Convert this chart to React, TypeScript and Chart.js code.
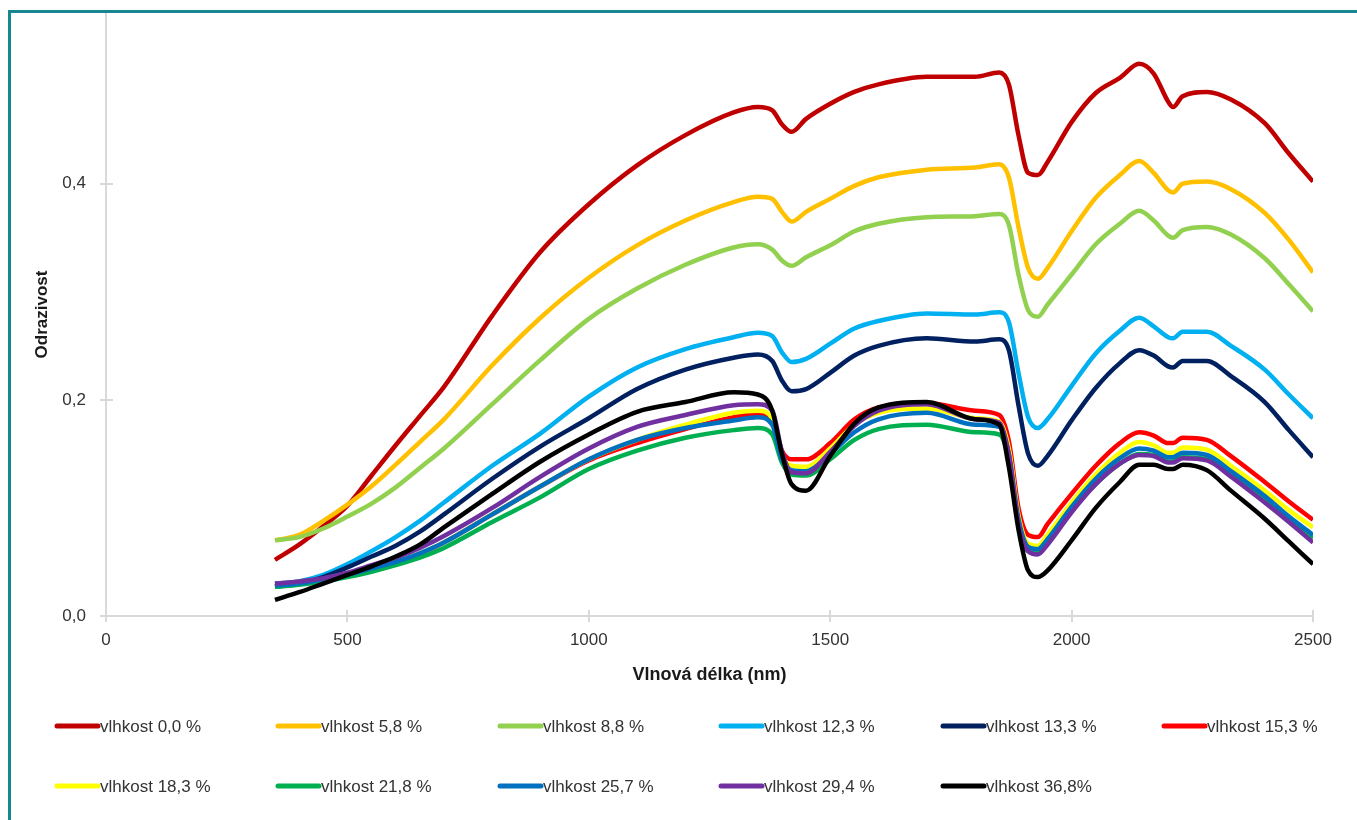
import React, { useEffect, useRef } from "react";
import { Chart, registerables } from "chart.js";

Chart.register(...registerables);

// ---- data ----
const wavelengths = [350, 400, 450, 500, 550, 600, 650, 700, 800, 900, 1000, 1100, 1200, 1300, 1350, 1380, 1400, 1420, 1450, 1500, 1550, 1600, 1700, 1800, 1850, 1870, 1890, 1910, 1930, 1950, 2000, 2050, 2100, 2140, 2170, 2200, 2210, 2230, 2280, 2330, 2400, 2450, 2500];

const seriesLabels = [
  "vlhkost 0,0 %", "vlhkost 5,8 %", "vlhkost 8,8 %", "vlhkost 12,3 %", "vlhkost 13,3 %", "vlhkost 15,3 %",
  "vlhkost 18,3 %", "vlhkost 21,8 %", "vlhkost 25,7 %", "vlhkost 29,4 %", "vlhkost 36,8%",
];

const seriesColors = ["#C00000", "#FFC000", "#92D050", "#00B0F0", "#002060", "#FF0000", "#FFFF00", "#00B050", "#0070C0", "#7030A0", "#000000"];

const moisture00 = [0.052, 0.066, 0.083, 0.102, 0.13, 0.158, 0.185, 0.212, 0.278, 0.337, 0.381, 0.417, 0.445, 0.466, 0.471, 0.468, 0.455, 0.448, 0.46, 0.474, 0.485, 0.492, 0.499, 0.499, 0.503, 0.492, 0.445, 0.41, 0.408, 0.42, 0.457, 0.484, 0.498, 0.511, 0.502, 0.476, 0.471, 0.481, 0.485, 0.478, 0.456, 0.428, 0.402];
const moisture58 = [0.07, 0.075, 0.088, 0.103, 0.12, 0.14, 0.161, 0.182, 0.232, 0.276, 0.313, 0.343, 0.366, 0.383, 0.388, 0.386, 0.374, 0.365, 0.374, 0.386, 0.398, 0.406, 0.413, 0.415, 0.418, 0.406, 0.36, 0.322, 0.312, 0.322, 0.356, 0.387, 0.408, 0.421, 0.41, 0.394, 0.392, 0.4, 0.402, 0.395, 0.373, 0.348, 0.318];
const moisture88 = [0.07, 0.073, 0.081, 0.092, 0.104, 0.119, 0.137, 0.155, 0.196, 0.237, 0.275, 0.303, 0.325, 0.341, 0.344, 0.339, 0.329, 0.324, 0.332, 0.343, 0.356, 0.363, 0.369, 0.37, 0.372, 0.362, 0.316, 0.283, 0.277, 0.288, 0.316, 0.344, 0.363, 0.375, 0.366, 0.352, 0.35, 0.357, 0.36, 0.353, 0.331, 0.307, 0.282];
const moisture123 = [0.03, 0.032, 0.038, 0.048, 0.06, 0.073, 0.088, 0.105, 0.139, 0.169, 0.203, 0.23, 0.247, 0.258, 0.262, 0.259, 0.244, 0.235, 0.238, 0.252, 0.266, 0.273, 0.28, 0.279, 0.281, 0.272, 0.225, 0.184, 0.174, 0.182, 0.213, 0.243, 0.264, 0.276, 0.268, 0.258, 0.257, 0.263, 0.263, 0.25, 0.228, 0.205, 0.183];
const moisture133 = [0.027, 0.03, 0.036, 0.045, 0.055, 0.065, 0.078, 0.094, 0.127, 0.157, 0.183, 0.21, 0.228, 0.239, 0.242, 0.236, 0.218, 0.208, 0.21, 0.225, 0.241, 0.25, 0.257, 0.254, 0.256, 0.246, 0.195, 0.15, 0.139, 0.148, 0.181, 0.211, 0.234, 0.246, 0.241, 0.231, 0.23, 0.236, 0.236, 0.222, 0.198, 0.172, 0.147];
const moisture153 = [0.028, 0.03, 0.033, 0.037, 0.042, 0.049, 0.057, 0.068, 0.094, 0.12, 0.144, 0.16, 0.173, 0.184, 0.187, 0.181, 0.153, 0.145, 0.145, 0.16, 0.182, 0.193, 0.197, 0.19, 0.186, 0.162, 0.1, 0.075, 0.073, 0.085, 0.113, 0.139, 0.16, 0.17, 0.167, 0.16, 0.16, 0.165, 0.163, 0.148, 0.124, 0.106, 0.089];
const moisture183 = [0.028, 0.03, 0.034, 0.038, 0.044, 0.05, 0.058, 0.068, 0.094, 0.12, 0.145, 0.163, 0.177, 0.188, 0.19, 0.183, 0.149, 0.139, 0.138, 0.155, 0.177, 0.188, 0.192, 0.183, 0.18, 0.155, 0.093, 0.067, 0.065, 0.075, 0.105, 0.131, 0.151, 0.161, 0.158, 0.151, 0.151, 0.156, 0.154, 0.139, 0.116, 0.098, 0.082];
const moisture218 = [0.027, 0.029, 0.032, 0.036, 0.041, 0.047, 0.054, 0.063, 0.087, 0.11, 0.136, 0.153, 0.165, 0.172, 0.174, 0.168, 0.142, 0.131, 0.13, 0.145, 0.163, 0.173, 0.177, 0.17, 0.168, 0.145, 0.085, 0.06, 0.058, 0.067, 0.097, 0.122, 0.141, 0.15, 0.149, 0.143, 0.143, 0.147, 0.145, 0.13, 0.107, 0.088, 0.072];
const moisture257 = [0.028, 0.03, 0.034, 0.038, 0.044, 0.05, 0.058, 0.068, 0.094, 0.12, 0.145, 0.163, 0.174, 0.181, 0.184, 0.177, 0.145, 0.135, 0.134, 0.15, 0.17, 0.182, 0.188, 0.177, 0.175, 0.15, 0.09, 0.064, 0.062, 0.071, 0.101, 0.127, 0.146, 0.155, 0.153, 0.147, 0.147, 0.151, 0.149, 0.134, 0.111, 0.092, 0.075];
const moisture294 = [0.03, 0.032, 0.035, 0.04, 0.047, 0.054, 0.063, 0.074, 0.1, 0.129, 0.155, 0.175, 0.186, 0.195, 0.196, 0.19, 0.152, 0.133, 0.132, 0.152, 0.176, 0.19, 0.196, 0.182, 0.179, 0.15, 0.085, 0.06, 0.057, 0.066, 0.096, 0.122, 0.141, 0.149, 0.148, 0.142, 0.142, 0.146, 0.144, 0.129, 0.105, 0.087, 0.068];
const moisture368 = [0.015, 0.022, 0.03, 0.038, 0.046, 0.055, 0.066, 0.082, 0.113, 0.143, 0.168, 0.189, 0.198, 0.207, 0.205, 0.19, 0.15, 0.122, 0.116, 0.148, 0.178, 0.193, 0.198, 0.182, 0.177, 0.138, 0.08, 0.042, 0.036, 0.042, 0.07, 0.1, 0.124, 0.14, 0.14, 0.136, 0.136, 0.14, 0.135, 0.116, 0.09, 0.069, 0.048];

const xTickValues = [0, 500, 1000, 1500, 2000, 2500];
const yTickValues = [0, 0.2, 0.4];

const xTitle = "Vlnová délka (nm)";
const yTitle = "Odrazivost";

// ---- layout / style constants ----
const FONT = '"Liberation Sans", Arial, sans-serif';
const AXIS_COLOR = "#d9d9d9";
const TEXT_COLOR = "#333333";
const LEGEND_COLUMNS = [55, 276, 498, 719, 941, 1162];
const LEGEND_ROWS = [726, 786];
const TEAL = "#17878f";

export default function App() {
  const canvasRef = useRef<HTMLCanvasElement | null>(null);

  useEffect(() => {
    const canvas = canvasRef.current;
    if (!canvas) return;
    const seriesValues = [moisture00, moisture58, moisture88, moisture123, moisture133, moisture153, moisture183, moisture218, moisture257, moisture294, moisture368];

    const datasets = seriesValues.map((vals, i) => ({
      label: seriesLabels[i],
      data: wavelengths.map((x, j) => ({ x, y: vals[j] })),
      borderColor: seriesColors[i],
      backgroundColor: seriesColors[i],
      borderWidth: 4.5,
      pointRadius: 0,
      pointHoverRadius: 0,
      cubicInterpolationMode: "monotone" as const,
      fill: false,
      order: seriesValues.length - i,
    }));

    const tickMarks = {
      id: "tickMarks",
      beforeDatasetsDraw(chart: any) {
        const { ctx, scales, chartArea } = chart;
        ctx.save();
        ctx.strokeStyle = AXIS_COLOR;
        ctx.lineWidth = 2;
        xTickValues.forEach((v) => {
          const px = Math.round(scales.x.getPixelForValue(v));
          ctx.beginPath();
          ctx.moveTo(px, chartArea.bottom - 6);
          ctx.lineTo(px, chartArea.bottom + 6);
          ctx.stroke();
        });
        yTickValues.forEach((v) => {
          const py = Math.round(scales.y.getPixelForValue(v));
          ctx.beginPath();
          ctx.moveTo(chartArea.left - 6, py);
          ctx.lineTo(chartArea.left + 7, py);
          ctx.stroke();
        });
        ctx.restore();
      },
    };

    const bottomLegend = {
      id: "bottomLegend",
      afterDraw(chart: any) {
        const ctx = chart.ctx;
        ctx.save();
        ctx.font = `17px ${FONT}`;
        ctx.textBaseline = "middle";
        ctx.textAlign = "left";
        chart.data.datasets.forEach((ds: any, i: number) => {
          const col = i % LEGEND_COLUMNS.length;
          const row = Math.floor(i / LEGEND_COLUMNS.length);
          const x0 = LEGEND_COLUMNS[col];
          const y = LEGEND_ROWS[row];
          ctx.strokeStyle = ds.borderColor;
          ctx.lineWidth = 5;
          ctx.lineCap = "round";
          ctx.beginPath();
          ctx.moveTo(x0 + 2, y);
          ctx.lineTo(x0 + 43, y);
          ctx.stroke();
          ctx.fillStyle = TEXT_COLOR;
          ctx.fillText(ds.label, x0 + 45, y + 1);
        });
        ctx.restore();
      },
    };

    const chart = new Chart(canvas, {
      type: "line",
      data: { datasets },
      options: {
        responsive: false,
        animation: false,
        devicePixelRatio: 1,
        layout: { padding: { top: 13, right: 44, bottom: 134, left: 0 } },
        plugins: {
          legend: { display: false },
          tooltip: { enabled: false },
        },
        scales: {
          x: {
            type: "linear",
            min: 0,
            max: 2500,
            grid: { display: false, drawTicks: false },
            border: { display: true, color: AXIS_COLOR, width: 2 },
            ticks: {
              stepSize: 500,
              padding: 14,
              color: TEXT_COLOR,
              font: { family: FONT, size: 17 },
              maxRotation: 0,
              callback: (v: any) => String(v),
            },
            title: {
              display: true,
              text: xTitle,
              color: "#1a1a1a",
              font: { family: FONT, size: 18, weight: "bold" },
              padding: { top: 0, bottom: 0 },
            },
            afterFit: (s: any) => {
              s.height = 70;
              s.paddingLeft = 0;
              s.paddingRight = 0;
            },
          },
          y: {
            type: "linear",
            min: 0,
            max: 0.558,
            grid: { display: false, drawTicks: false },
            border: { display: true, color: AXIS_COLOR, width: 2 },
            ticks: {
              stepSize: 0.2,
              includeBounds: false,
              padding: 20,
              color: TEXT_COLOR,
              font: { family: FONT, size: 17 },
              callback: (v: any) => Number(v).toFixed(1).replace(".", ","),
            },
            title: {
              display: true,
              text: yTitle,
              color: "#1a1a1a",
              font: { family: FONT, size: 17, weight: "bold" },
              padding: { top: 32, bottom: 0 },
            },
            afterFit: (s: any) => {
              s.width = 106;
              s.paddingTop = 0;
              s.paddingBottom = 0;
            },
          },
        },
      },
      plugins: [tickMarks, bottomLegend],
    } as any);

    return () => {
      chart.destroy();
    };
  }, []);

  return (
    <div style={{ position: "fixed", left: 0, top: 0, width: 1357, height: 820, overflow: "hidden", background: "#ffffff" }}>
      <canvas ref={canvasRef} width={1357} height={820} style={{ position: "absolute", left: 0, top: 0, width: 1357, height: 820 }} />
      <div
        style={{
          position: "absolute",
          left: 8,
          top: 10,
          width: 2000,
          height: 2000,
          borderTop: `3px solid ${TEAL}`,
          borderLeft: `3px solid ${TEAL}`,
          pointerEvents: "none",
        }}
      />
    </div>
  );
}
